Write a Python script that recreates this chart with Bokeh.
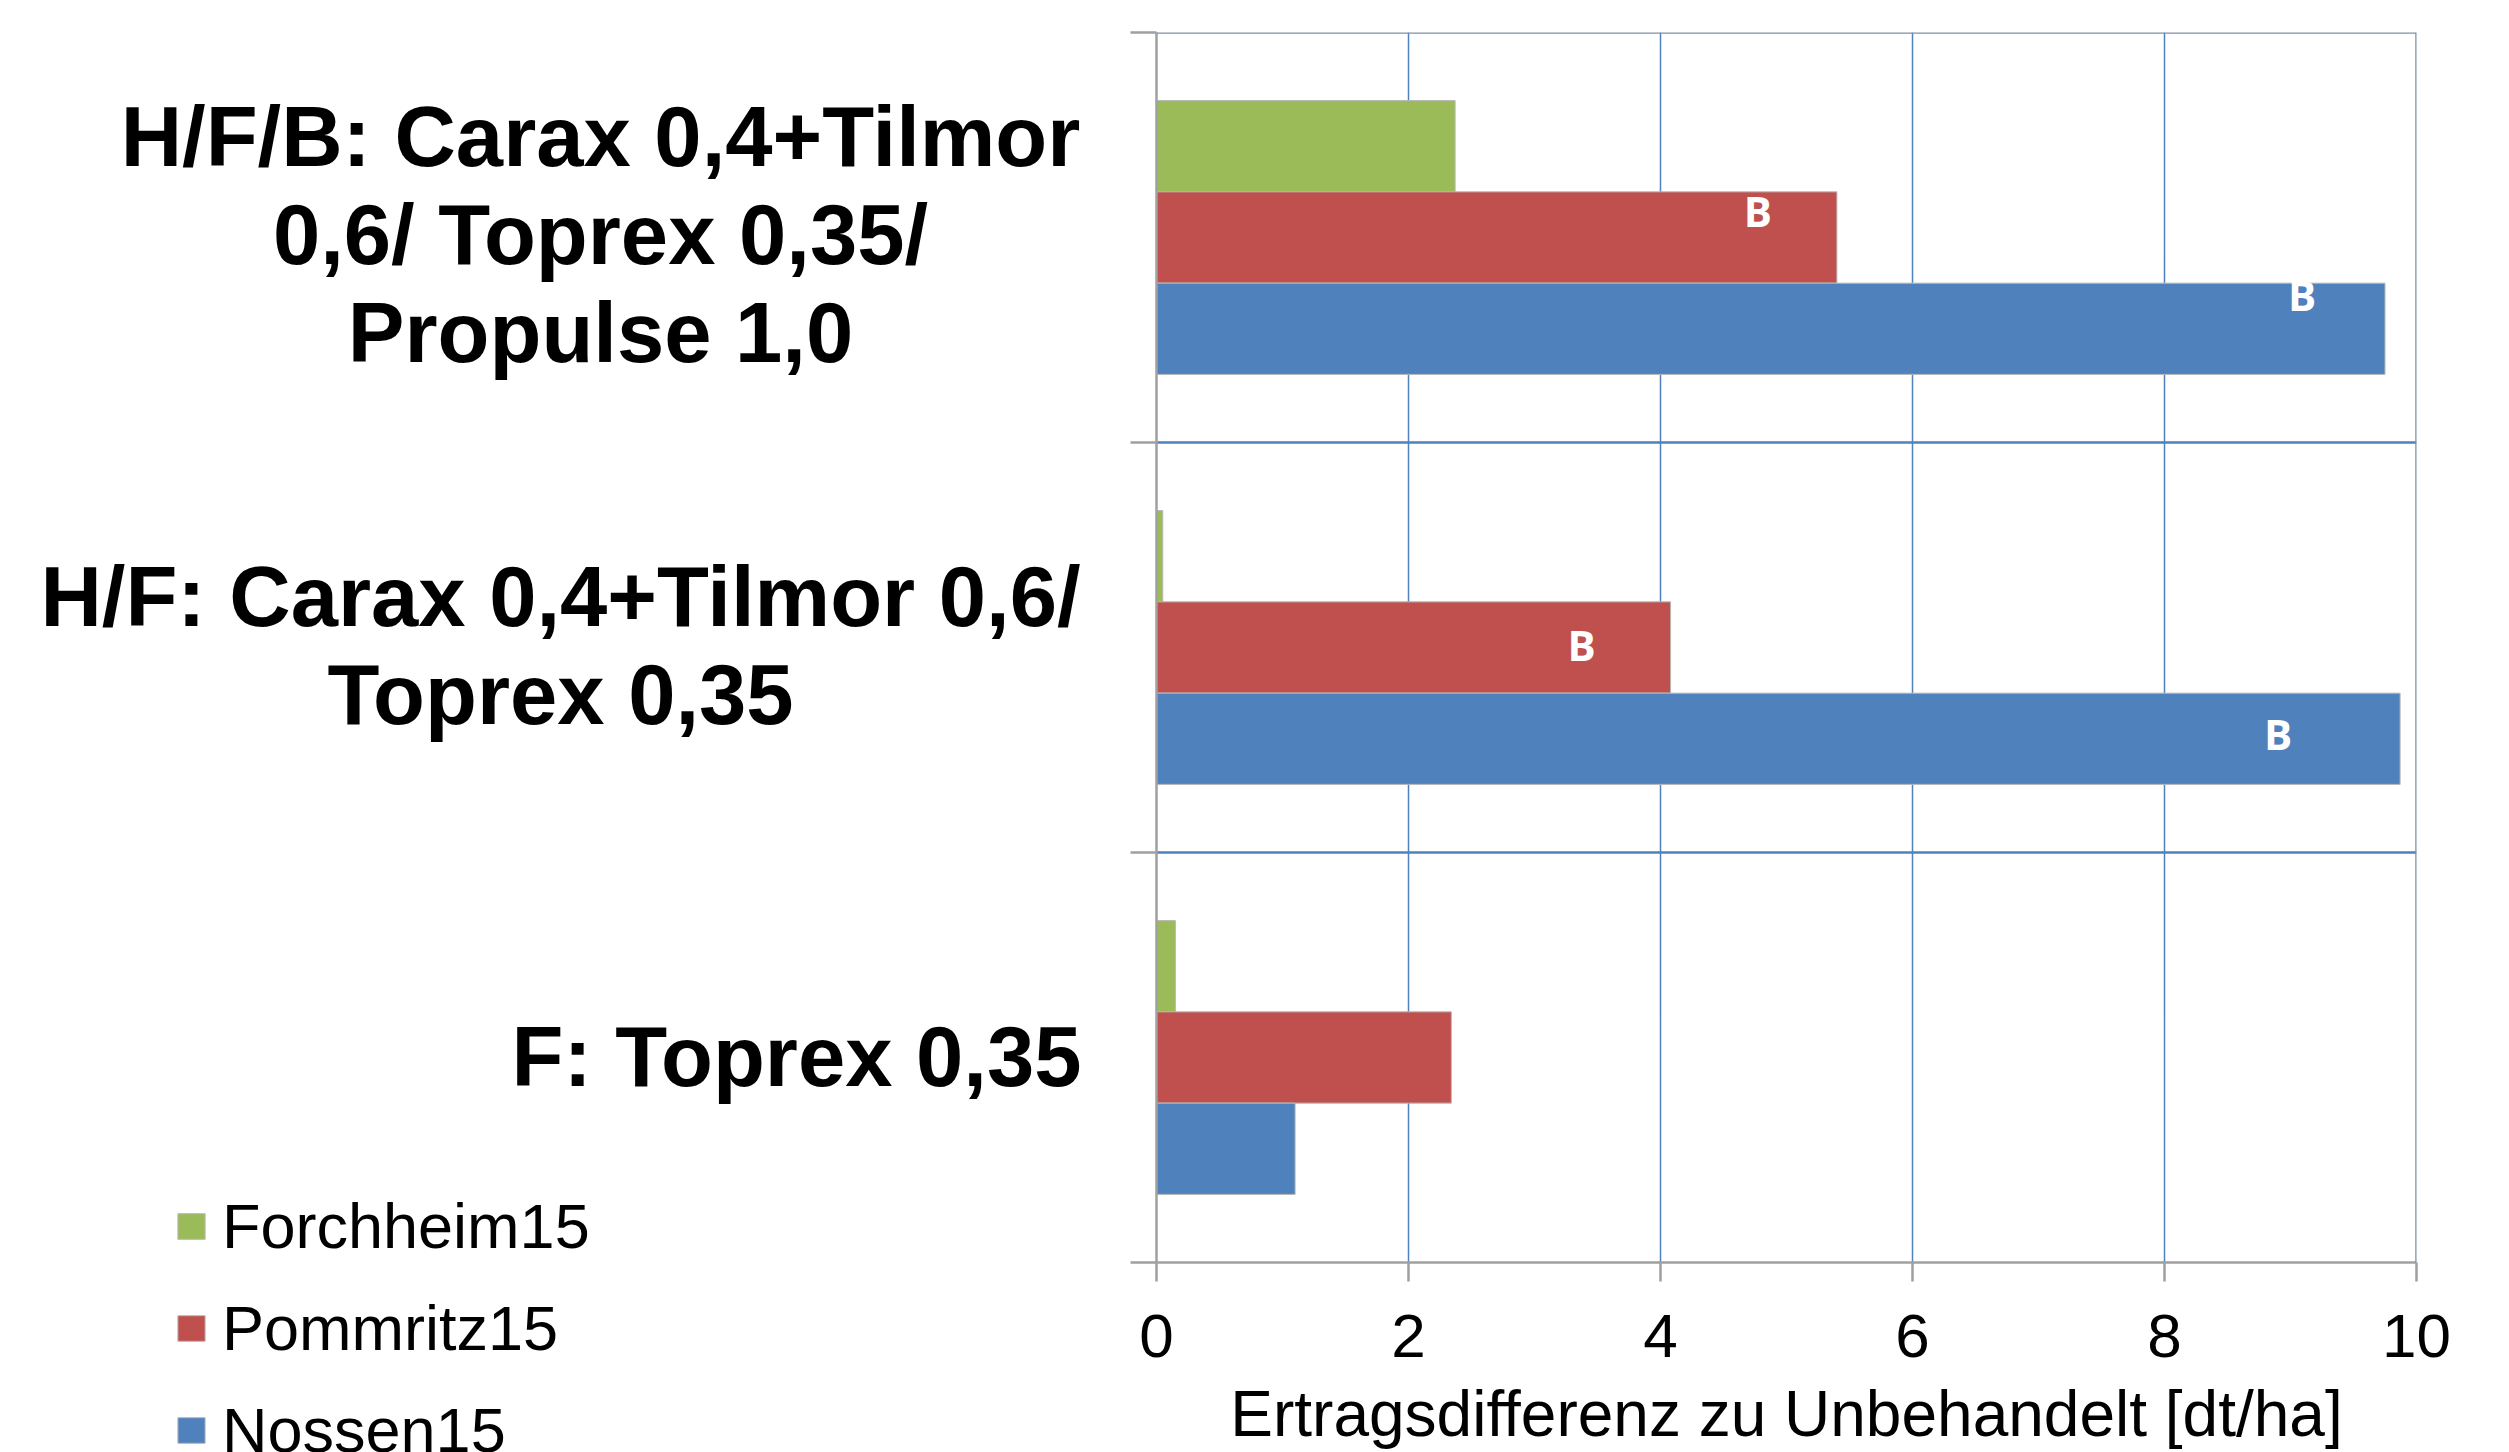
from bokeh.plotting import figure
from bokeh.layouts import row
from bokeh.models import (Range1d, FixedTicker, Span, LabelSet,
                          ColumnDataSource, Legend, LegendItem)
from bokeh.core.properties import value
from bokeh.embed import file_html
from bokeh.resources import INLINE

# ---------------- data ----------------
categories = [
    "H/F/B: Carax 0,4+Tilmor 0,6/ Toprex 0,35/ Propulse 1,0",
    "H/F: Carax 0,4+Tilmor 0,6/ Toprex 0,35",
    "F: Toprex 0,35",
]
category_lines = [
    ["H/F/B: Carax 0,4+Tilmor", "0,6/ Toprex 0,35/", "Propulse 1,0"],
    ["H/F: Carax 0,4+Tilmor 0,6/", "Toprex 0,35"],
    ["F: Toprex 0,35"],
]
series_names = ["Forchheim15", "Pommritz15", "Nossen15"]
forchheim15 = [2.37, 0.05, 0.15]
pommritz15 = [5.40, 4.08, 2.34]
nossen15 = [9.75, 9.87, 1.10]
letters_pommritz15 = ["B", "B", ""]
letters_nossen15 = ["B", "B", ""]
x_ticks = [0, 2, 4, 6, 8, 10]
x_title = "Ertragsdifferenz zu Unbehandelt [dt/ha]"

# ---------------- styles / layout ----------------
colors = ["#9BBB59", "#C0504D", "#4F81BD"]
FONT = "Liberation Sans"
W, H = 2509, 1452
LEFT_W = 1130
TOP, BOTTOM, RIGHT = 32, 187, 93
bar_h = 0.2226
series_offsets = [bar_h, 0.0, -bar_h]
label_center_px = [600, 560, 796]
line_gap_px = 98
label_nudge_px = 4
letter_dx = {"Pommritz15": [-79, -89, 0], "Nossen15": [-83, -122, 0]}
letter_dy = {"Pommritz15": [27, 3, 0], "Nossen15": [34, 5, 0]}

n = len(categories)
cat_y = [n - i - 0.5 for i in range(n)]
unit_px = (H - TOP - BOTTOM) / n
series_vals = [forchheim15, pommritz15, nossen15]

# ---------------- main chart ----------------
p = figure(width=W - LEFT_W, height=H,
           x_range=Range1d(x_ticks[0], x_ticks[-1]), y_range=Range1d(0, n),
           output_backend="svg", toolbar_location=None,
           min_border_left=26, min_border_right=RIGHT,
           min_border_top=TOP, min_border_bottom=BOTTOM)
p.frame_align = False
p.outline_line_color = None
p.background_fill_color = "white"
p.border_fill_color = "white"

xa = p.xaxis[0]
xa.ticker = FixedTicker(ticks=x_ticks)
xa.major_tick_out = 19
xa.major_tick_in = 0
xa.minor_tick_line_color = None
xa.axis_line_color = "#a0a0a0"
xa.axis_line_width = 2.5
xa.major_tick_line_color = "#a0a0a0"
xa.major_tick_line_width = 2.5
xa.major_label_text_font = FONT
xa.major_label_text_font_size = "62px"
xa.major_label_text_color = "black"
xa.major_label_standoff = 33
xa.axis_label = x_title
xa.axis_label_text_font = FONT
xa.axis_label_text_font_size = "64px"
xa.axis_label_text_font_style = "normal"
xa.axis_label_text_color = "black"
xa.axis_label_standoff = 18

ya = p.yaxis[0]
ya.ticker = FixedTicker(ticks=list(range(0, n + 1)))
ya.major_tick_out = 26
ya.major_tick_in = 0
ya.minor_tick_line_color = None
ya.axis_line_color = "#a0a0a0"
ya.axis_line_width = 2.5
ya.major_tick_line_color = "#a0a0a0"
ya.major_tick_line_width = 2.5
ya.major_label_overrides = {t: "" for t in range(0, n + 1)}
ya.major_label_standoff = 0

p.xgrid.ticker = FixedTicker(ticks=x_ticks[1:-1])
p.xgrid.grid_line_color = "#4F81BD"
p.xgrid.grid_line_width = 1.5
p.ygrid.ticker = FixedTicker(ticks=list(range(1, n)))
p.ygrid.grid_line_color = "#4F81BD"
p.ygrid.grid_line_width = 2.5
p.add_layout(Span(location=n, dimension="width", line_color="#7F8FA9", line_width=2.5))
p.add_layout(Span(location=x_ticks[-1], dimension="height", line_color="#7F8FA9", line_width=2.5))

for name, vals, col, off in zip(series_names, series_vals, colors, series_offsets):
    src = ColumnDataSource(dict(y=[c + off for c in cat_y], right=vals))
    p.hbar(y="y", left=0, right="right", height=bar_h, source=src,
           fill_color=col, line_color="#b8b8b8", line_width=1)

lx, ly, lt, ldx, ldy = [], [], [], [], []
for name, vals, letters, off in [("Pommritz15", pommritz15, letters_pommritz15, series_offsets[1]),
                                  ("Nossen15", nossen15, letters_nossen15, series_offsets[2])]:
    for i, (v, t) in enumerate(zip(vals, letters)):
        if t:
            lx.append(v)
            ly.append(cat_y[i] + off)
            lt.append(t)
            ldx.append(letter_dx[name][i])
            ldy.append(letter_dy[name][i])
lsrc = ColumnDataSource(dict(x=lx, y=ly, text=lt, dx=ldx, dy=ldy))
p.add_layout(LabelSet(x="x", y="y", text="text", x_offset="dx", y_offset="dy",
                      source=lsrc, text_align="center", text_baseline="middle",
                      text_color="white", text_font=value("Open Sans"),
                      text_font_style="bold", text_font_size="42px"))

# ---------------- left panel: category labels and legend ----------------
left = figure(width=LEFT_W, height=H,
              x_range=Range1d(0, LEFT_W),
              y_range=Range1d(-BOTTOM / unit_px, n + TOP / unit_px),
              output_backend="svg", toolbar_location=None,
              x_axis_location=None, y_axis_location=None,
              min_border_left=0, min_border_right=0,
              min_border_top=0, min_border_bottom=0)
left.frame_align = False
left.outline_line_color = None
left.grid.visible = False
left.background_fill_color = "white"
left.border_fill_color = "white"

tx, ty, tt = [], [], []
for i, lines in enumerate(category_lines):
    k = len(lines)
    for j, line in enumerate(lines):
        tx.append(label_center_px[i])
        ty.append(cat_y[i] + (((k - 1) / 2 - j) * line_gap_px + label_nudge_px) / unit_px)
        tt.append(line)
left.text(x="x", y="y", text="t", source=ColumnDataSource(dict(x=tx, y=ty, t=tt)),
          text_align="center", text_baseline="middle", text_font=value(FONT),
          text_font_style="bold", text_font_size="85px", text_color="black")

# hidden copies of the series, only used to feed the legend swatches
legend_renderers = []
for vals, col, off in zip(series_vals, colors, series_offsets):
    r = left.hbar(y=[c + off for c in cat_y], left=0, right=vals, height=bar_h,
                  fill_color=col, line_color="#b8b8b8", line_width=1, visible=False)
    legend_renderers.append(r)

legend = Legend(items=[LegendItem(label=nm, renderers=[r])
                       for nm, r in zip(series_names, legend_renderers)],
                location=(174, -14), orientation="vertical",
                glyph_width=34, glyph_height=32, label_height=72,
                label_standoff=14, spacing=30,
                padding=0, margin=0, border_line_color=None, background_fill_alpha=0,
                inactive_fill_alpha=0,
                label_text_font=FONT, label_text_font_size="63px",
                label_text_color="black", label_text_baseline="middle")
left.add_layout(legend)

layout = row(left, p, spacing=0)
open("out.html", "w").write(file_html(layout, INLINE))
